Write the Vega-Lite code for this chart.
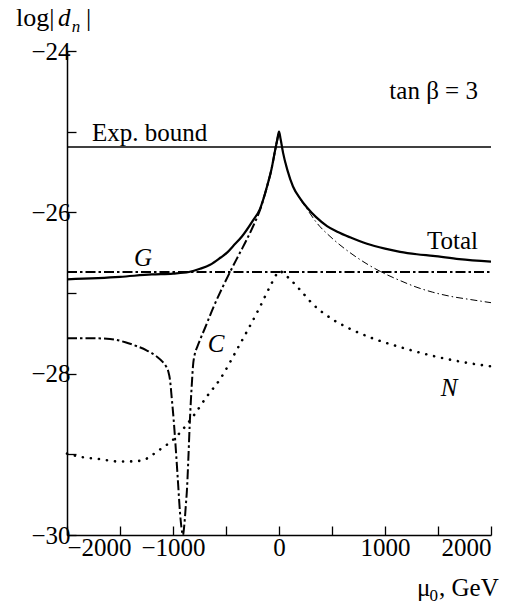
{
  "$schema": "https://vega.github.io/schema/vega-lite/v6.json",
  "width": 424,
  "height": 484,
  "autosize": {"type": "none"},
  "padding": {"left": 67, "top": 51, "right": 37, "bottom": 71},
  "background": "white",
  "config": {
    "view": {"stroke": null},
    "axis": {"grid": false, "domainColor": "black", "tickColor": "black", "labelColor": "black", "labelFont": "Liberation Serif", "labelFontSize": 25, "domainWidth": 1.5, "tickWidth": 1.3},
    "text": {"font": "Liberation Serif", "color": "black"}
  },
  "datasets": {
    "curves": [
      {"s": "Exp", "x": -2000, "y": -25.19}, {"s": "Exp", "x": 2000, "y": -25.19},
      {"s": "G", "x": -2000, "y": -26.74}, {"s": "G", "x": 2000, "y": -26.74},
      {"s": "Total", "x": -2000, "y": -26.83}, {"s": "Total", "x": -1500, "y": -26.8}, {"s": "Total", "x": -1200, "y": -26.77}, {"s": "Total", "x": -1000, "y": -26.76}, {"s": "Total", "x": -850, "y": -26.74}, {"s": "Total", "x": -745, "y": -26.7}, {"s": "Total", "x": -650, "y": -26.65}, {"s": "Total", "x": -550, "y": -26.56}, {"s": "Total", "x": -490, "y": -26.5}, {"s": "Total", "x": -434, "y": -26.42}, {"s": "Total", "x": -350, "y": -26.3}, {"s": "Total", "x": -245, "y": -26.1}, {"s": "Total", "x": -180, "y": -25.96}, {"s": "Total", "x": -113, "y": -25.68}, {"s": "Total", "x": -70, "y": -25.46}, {"s": "Total", "x": -38, "y": -25.24}, {"s": "Total", "x": -15, "y": -25.09}, {"s": "Total", "x": 0, "y": -25.0}, {"s": "Total", "x": 15, "y": -25.09}, {"s": "Total", "x": 38, "y": -25.26}, {"s": "Total", "x": 80, "y": -25.48}, {"s": "Total", "x": 132, "y": -25.68}, {"s": "Total", "x": 200, "y": -25.83}, {"s": "Total", "x": 264, "y": -25.94}, {"s": "Total", "x": 350, "y": -26.06}, {"s": "Total", "x": 453, "y": -26.17}, {"s": "Total", "x": 550, "y": -26.24}, {"s": "Total", "x": 670, "y": -26.31}, {"s": "Total", "x": 830, "y": -26.39}, {"s": "Total", "x": 1000, "y": -26.45}, {"s": "Total", "x": 1142, "y": -26.49}, {"s": "Total", "x": 1300, "y": -26.52}, {"s": "Total", "x": 1453, "y": -26.54}, {"s": "Total", "x": 1700, "y": -26.58}, {"s": "Total", "x": 2000, "y": -26.61},
      {"s": "C1", "x": -2000, "y": -27.56}, {"s": "C1", "x": -1800, "y": -27.56}, {"s": "C1", "x": -1594, "y": -27.57}, {"s": "C1", "x": -1450, "y": -27.61}, {"s": "C1", "x": -1340, "y": -27.66}, {"s": "C1", "x": -1250, "y": -27.71}, {"s": "C1", "x": -1151, "y": -27.79}, {"s": "C1", "x": -1100, "y": -27.85}, {"s": "C1", "x": -1070, "y": -27.9}, {"s": "C1", "x": -1045, "y": -27.97}, {"s": "C1", "x": -1028, "y": -28.08}, {"s": "C1", "x": -1012, "y": -28.3}, {"s": "C1", "x": -995, "y": -28.55}, {"s": "C1", "x": -978, "y": -28.85}, {"s": "C1", "x": -955, "y": -29.3}, {"s": "C1", "x": -934, "y": -29.72}, {"s": "C1", "x": -918, "y": -29.93}, {"s": "C1", "x": -906, "y": -30.0}, {"s": "C1", "x": -895, "y": -29.9}, {"s": "C1", "x": -880, "y": -29.65}, {"s": "C1", "x": -868, "y": -29.43}, {"s": "C1", "x": -855, "y": -29.05}, {"s": "C1", "x": -843, "y": -28.65}, {"s": "C1", "x": -832, "y": -28.35}, {"s": "C1", "x": -821, "y": -28.1}, {"s": "C1", "x": -811, "y": -27.9}, {"s": "C1", "x": -795, "y": -27.76}, {"s": "C1", "x": -772, "y": -27.67}, {"s": "C1", "x": -745, "y": -27.58}, {"s": "C1", "x": -700, "y": -27.44}, {"s": "C1", "x": -620, "y": -27.18}, {"s": "C1", "x": -540, "y": -26.95}, {"s": "C1", "x": -462, "y": -26.74}, {"s": "C1", "x": -400, "y": -26.58}, {"s": "C1", "x": -352, "y": -26.46}, {"s": "C1", "x": -305, "y": -26.34}, {"s": "C1", "x": -240, "y": -26.16}, {"s": "C1", "x": -179, "y": -25.97}, {"s": "C1", "x": -113, "y": -25.68}, {"s": "C1", "x": -70, "y": -25.46}, {"s": "C1", "x": -38, "y": -25.24}, {"s": "C1", "x": -15, "y": -25.09}, {"s": "C1", "x": 0, "y": -25.0},
      {"s": "C2", "x": 0, "y": -25.0}, {"s": "C2", "x": 15, "y": -25.09}, {"s": "C2", "x": 38, "y": -25.26}, {"s": "C2", "x": 80, "y": -25.48}, {"s": "C2", "x": 132, "y": -25.68}, {"s": "C2", "x": 200, "y": -25.84}, {"s": "C2", "x": 264, "y": -25.96}, {"s": "C2", "x": 356, "y": -26.13}, {"s": "C2", "x": 500, "y": -26.32}, {"s": "C2", "x": 670, "y": -26.5}, {"s": "C2", "x": 830, "y": -26.64}, {"s": "C2", "x": 981, "y": -26.75}, {"s": "C2", "x": 1150, "y": -26.85}, {"s": "C2", "x": 1302, "y": -26.93}, {"s": "C2", "x": 1450, "y": -26.99}, {"s": "C2", "x": 1613, "y": -27.04}, {"s": "C2", "x": 1800, "y": -27.08}, {"s": "C2", "x": 2000, "y": -27.12},
      {"s": "N", "x": -2000, "y": -28.99}, {"s": "N", "x": -1877, "y": -29.03}, {"s": "N", "x": -1689, "y": -29.06}, {"s": "N", "x": -1500, "y": -29.09}, {"s": "N", "x": -1311, "y": -29.08}, {"s": "N", "x": -1123, "y": -28.94}, {"s": "N", "x": -1000, "y": -28.82}, {"s": "N", "x": -811, "y": -28.53}, {"s": "N", "x": -679, "y": -28.28}, {"s": "N", "x": -557, "y": -28.07}, {"s": "N", "x": -396, "y": -27.7}, {"s": "N", "x": -179, "y": -27.17}, {"s": "N", "x": -85, "y": -26.92}, {"s": "N", "x": -19, "y": -26.76}, {"s": "N", "x": 0, "y": -26.73}, {"s": "N", "x": 104, "y": -26.83}, {"s": "N", "x": 198, "y": -26.96}, {"s": "N", "x": 321, "y": -27.14}, {"s": "N", "x": 509, "y": -27.33}, {"s": "N", "x": 680, "y": -27.45}, {"s": "N", "x": 880, "y": -27.56}, {"s": "N", "x": 1142, "y": -27.67}, {"s": "N", "x": 1453, "y": -27.78}, {"s": "N", "x": 1750, "y": -27.86}, {"s": "N", "x": 2000, "y": -27.91}
    ],
    "labels": [
      {"k": "plainR", "x": 1877, "y": -24.6, "t": "tan β = 3"},
      {"k": "plainL", "x": -1764, "y": -25.12, "t": "Exp. bound"},
      {"k": "plainR", "x": 1877, "y": -26.46, "t": "Total"},
      {"k": "titleL", "x": -2481, "y": -23.69, "t": "log|"},
      {"k": "titleL", "x": -1820, "y": -23.69, "t": "|"},
      {"k": "plainL", "x": 1302, "y": -30.75, "t": "μ"},
      {"k": "plainL", "x": 1510, "y": -30.75, "t": ", GeV"},
      {"k": "italC", "x": -1283, "y": -26.67, "t": "G"},
      {"k": "italC", "x": -594, "y": -27.73, "t": "C"},
      {"k": "italC", "x": 1604, "y": -28.28, "t": "N"},
      {"k": "italL", "x": -2085, "y": -23.69, "t": "d"},
      {"k": "subi", "x": -1955, "y": -23.76, "t": "n"},
      {"k": "sub", "x": 1420, "y": -30.82, "t": "0"}
    ]
  },
  "layer": [
    {
      "data": {"name": "curves"},
      "transform": [{"filter": "datum.s === 'Exp'"}],
      "mark": {"type": "line", "color": "black", "strokeWidth": 1.3},
      "encoding": {
        "x": {"field": "x", "type": "quantitative", "scale": {"domain": [-2000, 2000], "nice": false},
          "axis": {"title": null, "format": "d", "values": [-2000, -1500, -1000, -500, 0, 500, 1000, 1500, 2000], "labelExpr": "datum.value % 1000 === 0 ? datum.label : ''", "tickSize": -9, "labelPadding": 9, "labelBaseline": "top", "labelFont": "Liberation Serif"}},
        "y": {"field": "y", "type": "quantitative", "scale": {"domain": [-30, -24], "nice": false, "zero": false},
          "axis": {"title": null, "format": "d", "values": [-30, -29, -28, -27, -26, -25, -24], "labelExpr": "datum.value % 2 === 0 ? datum.label : ''", "tickSize": -9, "labelPadding": 6, "labelFont": "Liberation Serif"}}
      }
    },
    {
      "data": {"name": "curves"},
      "transform": [{"filter": "datum.s === 'G'"}],
      "mark": {"type": "line", "color": "black", "strokeWidth": 2, "strokeDash": [10, 3, 2.5, 3]},
      "encoding": {"x": {"field": "x", "type": "quantitative"}, "y": {"field": "y", "type": "quantitative"}}
    },
    {
      "data": {"name": "curves"},
      "transform": [{"filter": "datum.s === 'C1'"}],
      "mark": {"type": "line", "color": "black", "strokeWidth": 2, "strokeDash": [10, 3, 2.5, 3], "interpolate": "monotone"},
      "encoding": {"x": {"field": "x", "type": "quantitative"}, "y": {"field": "y", "type": "quantitative"}}
    },
    {
      "data": {"name": "curves"},
      "transform": [{"filter": "datum.s === 'C2'"}],
      "mark": {"type": "line", "color": "black", "strokeWidth": 1, "strokeDash": [7, 3, 1.5, 3], "interpolate": "monotone"},
      "encoding": {"x": {"field": "x", "type": "quantitative"}, "y": {"field": "y", "type": "quantitative"}}
    },
    {
      "data": {"name": "curves"},
      "transform": [{"filter": "datum.s === 'N'"}],
      "mark": {"type": "line", "color": "black", "strokeWidth": 2.6, "strokeDash": [0.1, 8], "strokeCap": "round", "interpolate": "monotone"},
      "encoding": {"x": {"field": "x", "type": "quantitative"}, "y": {"field": "y", "type": "quantitative"}}
    },
    {
      "data": {"name": "curves"},
      "transform": [{"filter": "datum.s === 'Total'"}],
      "mark": {"type": "line", "color": "black", "strokeWidth": 2.2, "interpolate": "monotone"},
      "encoding": {"x": {"field": "x", "type": "quantitative"}, "y": {"field": "y", "type": "quantitative"}}
    },
    {
      "data": {"name": "labels"},
      "transform": [{"filter": "datum.k === 'plainL'"}],
      "mark": {"type": "text", "fontSize": 25, "baseline": "alphabetic", "align": "left"},
      "encoding": {"x": {"field": "x", "type": "quantitative"}, "y": {"field": "y", "type": "quantitative"}, "text": {"field": "t"}}
    },
    {
      "data": {"name": "labels"},
      "transform": [{"filter": "datum.k === 'titleL'"}],
      "mark": {"type": "text", "fontSize": 26, "baseline": "alphabetic", "align": "left"},
      "encoding": {"x": {"field": "x", "type": "quantitative"}, "y": {"field": "y", "type": "quantitative"}, "text": {"field": "t"}}
    },
    {
      "data": {"name": "labels"},
      "transform": [{"filter": "datum.k === 'plainR'"}],
      "mark": {"type": "text", "fontSize": 25, "baseline": "alphabetic", "align": "right"},
      "encoding": {"x": {"field": "x", "type": "quantitative"}, "y": {"field": "y", "type": "quantitative"}, "text": {"field": "t"}}
    },
    {
      "data": {"name": "labels"},
      "transform": [{"filter": "datum.k === 'italC'"}],
      "mark": {"type": "text", "fontSize": 25, "fontStyle": "italic", "baseline": "alphabetic", "align": "center"},
      "encoding": {"x": {"field": "x", "type": "quantitative"}, "y": {"field": "y", "type": "quantitative"}, "text": {"field": "t"}}
    },
    {
      "data": {"name": "labels"},
      "transform": [{"filter": "datum.k === 'italL'"}],
      "mark": {"type": "text", "fontSize": 25, "fontStyle": "italic", "baseline": "alphabetic", "align": "left"},
      "encoding": {"x": {"field": "x", "type": "quantitative"}, "y": {"field": "y", "type": "quantitative"}, "text": {"field": "t"}}
    },
    {
      "data": {"name": "labels"},
      "transform": [{"filter": "datum.k === 'subi'"}],
      "mark": {"type": "text", "fontSize": 17, "fontStyle": "italic", "baseline": "alphabetic", "align": "left"},
      "encoding": {"x": {"field": "x", "type": "quantitative"}, "y": {"field": "y", "type": "quantitative"}, "text": {"field": "t"}}
    },
    {
      "data": {"name": "labels"},
      "transform": [{"filter": "datum.k === 'sub'"}],
      "mark": {"type": "text", "fontSize": 17, "baseline": "alphabetic", "align": "left"},
      "encoding": {"x": {"field": "x", "type": "quantitative"}, "y": {"field": "y", "type": "quantitative"}, "text": {"field": "t"}}
    }
  ]
}
